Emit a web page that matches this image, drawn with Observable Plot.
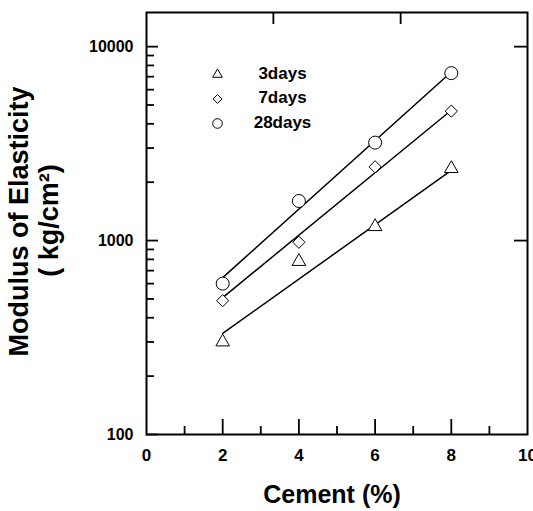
<!DOCTYPE html>
<html><head><meta charset="utf-8">
<script src="https://cdn.jsdelivr.net/npm/d3@7"></script>
<script src="https://cdn.jsdelivr.net/npm/@observablehq/plot@0.6"></script>
<style>html,body{margin:0;padding:0;background:#fff;}</style>
</head><body><div id="chart"></div>
<script>
// ---- data ----
const cement = [2, 4, 6, 8];
const seriesNames = ["3days", "7days", "28days"];
const days3 = [300, 780, 1180, 2350];
const days7 = [490, 980, 2400, 4650];
const days28 = [600, 1600, 3200, 7300];
const fitX = [2, 8];
const fit3 = [332, 2300];
const fit7 = [508, 4700];
const fit28 = [644, 7400];
// ---- ticks ----
const xTickLabels = [0, 2, 4, 6, 8, 10];
const xMajor = [2, 4, 6, 8];
const xMinor = [1, 3, 5, 7, 9];
const xTop = [3.33, 6.67];
const yTickLabels = [100, 1000, 10000];
const yMajor = [100, 1000, 10000];
const yMinor = [200, 300, 400, 500, 600, 700, 800, 900, 2000, 3000, 4000, 5000, 6000, 7000, 8000, 9000];
const yRight = [1000, 10000];
const xTitle = "Cement (%)";
const yTitle1 = "Modulus of Elasticity";
const yTitle2 = "( kg/cm\u00B2)";

const W = 533, H = 511, mL = 146, mR = 6, mT = 12, mB = 77;
const pw = W - mL - mR, ph = H - mT - mB;
const font = "'Liberation Sans', Arial, Helvetica, sans-serif";

const values = [days3, days7, days28];
const fits = [fit3, fit7, fit28];
const symbols = ["triangle2", "diamond2", "circle"];
const radii = [6.5, 5.5, 6.5];
const legendR = [4.6, 4.0, 4.8];

const marks = [];
// fitted lines
fits.forEach((f) => {
  marks.push(Plot.line(fitX.map((x, i) => ({x, y: f[i]})), {x: "x", y: "y", stroke: "black", strokeWidth: 1.5}));
});
// data points
values.forEach((v, j) => {
  marks.push(Plot.dot(cement.map((x, i) => ({x, y: v[i]})), {
    x: "x", y: "y", symbol: symbols[j], r: radii[j], fill: "white", stroke: "black", strokeWidth: 1
  }));
});
// legend
seriesNames.forEach((s, j) => {
  marks.push(Plot.dot([s], {frameAnchor: "top-left", dx: 71, dy: 62 + 24.5 * j, symbol: symbols[j], r: legendR[j], fill: "none", stroke: "black", strokeWidth: 1}));
  marks.push(Plot.text([s], {frameAnchor: "top-left", dx: 136, dy: 61 + 24.5 * j, text: d => d, textAnchor: "middle", lineAnchor: "middle", fontSize: 17, fontWeight: "bold", fill: "black"}));
});
// inward ticks
marks.push(Plot.tickY(yMajor, {y: d => d, insetRight: pw - 12, stroke: "black", strokeWidth: 1.8}));
marks.push(Plot.tickY(yMinor, {y: d => d, insetRight: pw - 8, stroke: "black", strokeWidth: 1.8}));
marks.push(Plot.tickY(yRight, {y: d => d, insetLeft: pw - 13, stroke: "black", strokeWidth: 1.8}));
marks.push(Plot.tickX(xMajor, {x: d => d, insetTop: ph - 15, stroke: "black", strokeWidth: 1.8}));
marks.push(Plot.tickX(xMinor, {x: d => d, insetTop: ph - 8, stroke: "black", strokeWidth: 1.8}));
marks.push(Plot.tickX(xTop, {x: d => d, insetBottom: ph - 12, stroke: "black", strokeWidth: 1.8}));
// axis labels
marks.push(Plot.axisX(xTickLabels, {tickSize: 0, tickPadding: 14, fontSize: 17, fontWeight: "bold", label: null, tickFormat: d => String(d), fill: "black"}));
marks.push(Plot.axisY(yTickLabels, {tickSize: 0, tickPadding: 13, fontSize: 16, fontWeight: "bold", label: null, tickFormat: d => String(d), fill: "black"}));
// titles
marks.push(Plot.text([yTitle1], {frameAnchor: "left", dx: -127, dy: -2, rotate: -90, text: d => d, textAnchor: "middle", lineAnchor: "middle", fontSize: 27, fontWeight: "bold", fill: "black"}));
marks.push(Plot.text([yTitle2], {frameAnchor: "left", dx: -97, dy: -3, rotate: -90, text: d => d, textAnchor: "middle", lineAnchor: "middle", fontSize: 27, fontWeight: "bold", fill: "black"}));
marks.push(Plot.text([xTitle], {frameAnchor: "bottom", dx: -5, dy: 60, text: d => d, textAnchor: "middle", lineAnchor: "middle", fontSize: 25, fontWeight: "bold", fill: "black"}));
marks.push(Plot.frame({stroke: "black", strokeWidth: 2}));

const chart = Plot.plot({
  width: W, height: H,
  marginLeft: mL, marginRight: mR, marginTop: mT, marginBottom: mB,
  x: {domain: [0, 10]},
  y: {type: "log", domain: [100, 15000]},
  style: {fontFamily: font, background: "white", color: "black"},
  marks
});
document.getElementById("chart").appendChild(chart);
</script>
</body></html>
